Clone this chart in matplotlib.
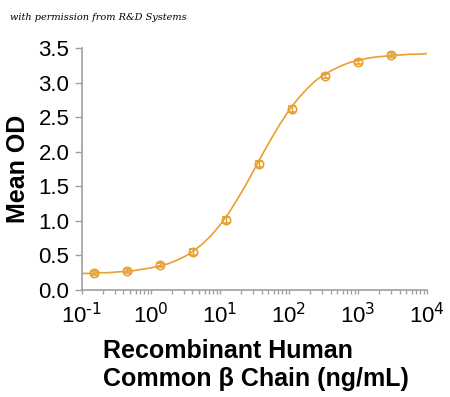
import matplotlib
matplotlib.use("Agg")
import matplotlib.pyplot as plt
import numpy as np

plt.rcParams['font.family'] = ['Liberation Sans', 'DejaVu Sans']
plt.rcParams['mathtext.default'] = 'regular'

# measured points (3-fold dilutions)
conc = [0.152, 0.457, 1.37, 4.12, 12.3, 37.0, 111, 333, 1000, 3000]
mean_od = [0.24, 0.27, 0.36, 0.55, 1.01, 1.82, 2.62, 3.09, 3.30, 3.40]
od_err = [0.03, 0.03, 0.03, 0.04, 0.04, 0.04, 0.04, 0.03, 0.03, 0.03]

# fitted curve, every 1/8 decade from 10^-1 to 10^4
curve_log_x = np.arange(-1, 4.001, 0.125)
curve_y = [0.24, 0.24, 0.25, 0.25, 0.26, 0.27, 0.28, 0.30, 0.32, 0.35, 0.38,
           0.43, 0.49, 0.57, 0.67, 0.79, 0.94, 1.11, 1.31, 1.52, 1.75,
           1.98, 2.20, 2.41, 2.60, 2.76, 2.90, 3.02, 3.11, 3.18, 3.24,
           3.29, 3.32, 3.35, 3.37, 3.38, 3.40, 3.40, 3.41, 3.41, 3.42]

x_ticks = [0.1, 1, 10, 100, 1000, 10000]
x_exps = ['-1', '0', '1', '2', '3', '4']

orange = '#E8A030'
grey = '#A0A0A0'

fig = plt.figure(figsize=(4.5, 3.97), dpi=100)
ax = fig.add_axes([0.182, 0.2695, 0.767, 0.6095])

ax.plot(10 ** curve_log_x, curve_y, color=orange, lw=1.2, zorder=2)
ax.errorbar(conc, mean_od, yerr=od_err, fmt='o', ms=6, mfc='none',
            mec=orange, mew=1.2, ecolor=orange, elinewidth=1.0, capsize=3,
            capthick=1.0, zorder=3)

ax.set_xscale('log')
ax.set_xlim(0.1, 10000)
ax.set_ylim(0, 3.5)
ax.set_yticks(np.arange(0, 3.51, 0.5))
ax.set_yticklabels(['%.1f' % v for v in np.arange(0, 3.51, 0.5)])
ax.set_xticks(x_ticks)
ax.set_xticklabels(['10$^{\\text{%s}}$' % e for e in x_exps])

for s in ['top', 'right']:
    ax.spines[s].set_visible(False)
for s in ['left', 'bottom']:
    ax.spines[s].set_color(grey)
    ax.spines[s].set_linewidth(1.2)

ax.tick_params(axis='both', which='both', color=grey, direction='out',
               labelsize=16, width=1)
ax.tick_params(axis='y', length=5, pad=4)
ax.tick_params(axis='x', which='major', length=3, pad=6)
ax.tick_params(axis='x', which='minor', length=3)

ax.set_ylabel('Mean OD', fontsize=18, fontweight='bold', labelpad=6)
fig.text(0.229, 0.08, 'Recombinant Human\nCommon \u03b2 Chain (ng/mL)',
         fontsize=18, fontweight='bold', ha='left', va='center',
         linespacing=1.2)

fig.text(0.022, 0.955, 'with permission from R&D Systems', fontsize=7,
         style='italic', family=['DejaVu Serif'], ha='left', va='center')

fig.savefig('out.png', dpi=100)
